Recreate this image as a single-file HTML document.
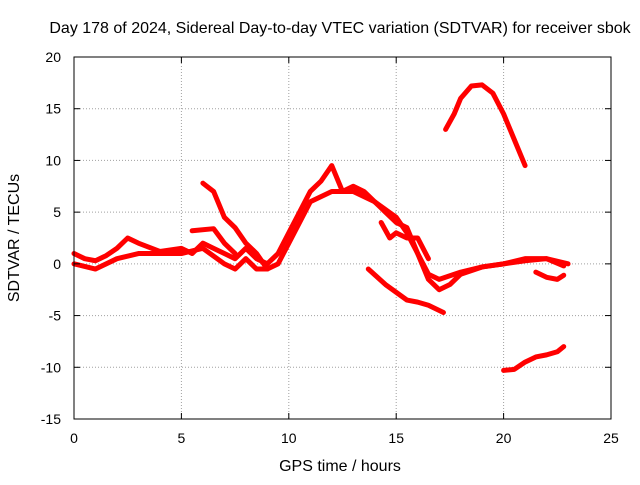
<!DOCTYPE html>
<html><head><meta charset="utf-8"><style>
body{margin:0;background:#fff}
svg text{font-family:"Liberation Sans",sans-serif;font-size:14px;fill:#000}
svg text.big{font-size:16px}
</style></head><body>
<svg id="chart" width="640" height="480" xmlns="http://www.w3.org/2000/svg">
<rect width="640" height="480" fill="#fff"/>
<g id="grid"></g><g id="series"></g><g id="axes"></g>
<text class="big" x="340" y="33" text-anchor="middle">Day 178 of 2024, Sidereal Day-to-day VTEC variation (SDTVAR) for receiver sbok</text>
<text class="big" x="340" y="471" text-anchor="middle">GPS time / hours</text>
<text class="big" transform="translate(19,238) rotate(-90)" text-anchor="middle">SDTVAR / TECUs</text>
</svg>
<script>
const xTicks=[0,5,10,15,20,25];
const yTicks=[20,15,10,5,0,-5,-10,-15];
const trackAx=[0,0.5,1,1.5,2,2.5,3,4,5,5.5,6,6.5,7,7.5,8,8.5,9,9.5,10,10.5,11,11.5,12,12.5,13,13.5,14,14.5,15,15.5,16,16.5,17,17.5,18,19,20,21,22,22.8];
const trackAy=[1,0.5,0.3,0.8,1.5,2.5,2,1.2,1.5,1,2,1.5,1,0.5,1.5,0.5,0,1,3,5,7,8,9.5,7,7.5,7,6,5,4,3.5,1,-1.5,-2.5,-2,-1,-0.3,0,0.5,0.5,-0.2];
const trackBx=[0,1,2,3,4,5,6,7,7.5,8,8.5,9,9.5,10,11,12,13,14,15,15.5,16,16.5,17,18,19,20,21,22,23];
const trackBy=[0,-0.5,0.5,1,1,1,1.5,0,-0.5,0.5,-0.5,-0.5,0,2,6,7,7,6,4.5,3,1,-1,-1.5,-0.8,-0.3,0,0.3,0.5,0];
const trackCx=[6,6.5,7,7.5,8,8.5,9];
const trackCy=[7.8,7,4.5,3.5,2,1,-0.5];
const trackDx=[5.5,6.5,7,7.5];
const trackDy=[3.2,3.4,2,1];
const trackEx=[14.3,14.7,15,15.5,16,16.5];
const trackEy=[4,2.5,3,2.5,2.5,0.5];
const trackFx=[13.7,14.5,15.5,16,16.5,17.2];
const trackFy=[-0.5,-2,-3.5,-3.7,-4,-4.7];
const trackGx=[17.3,17.7,18,18.5,19,19.5,20,20.5,21];
const trackGy=[13,14.5,16,17.2,17.3,16.5,14.5,12,9.5];
const trackHx=[20,20.5,21,21.5,22,22.5,22.8];
const trackHy=[-10.3,-10.2,-9.5,-9,-8.8,-8.5,-8];
const trackIx=[21.5,22,22.5,22.8];
const trackIy=[-0.8,-1.3,-1.5,-1.1];
const tracks=[[trackAx,trackAy],[trackBx,trackBy],[trackCx,trackCy],[trackDx,trackDy],[trackEx,trackEy],[trackFx,trackFy],[trackGx,trackGy],[trackHx,trackHy],[trackIx,trackIy]];
const L=74,R=611,T=57,B=419;
const sx=v=>L+(v-0)/25*(R-L);
const sy=v=>T+(20-v)/35*(B-T);
const NS="http://www.w3.org/2000/svg";
function mk(tag,parent,attrs){const e=document.createElementNS(NS,tag);for(const k in attrs)e.setAttribute(k,attrs[k]);parent.appendChild(e);return e;}
const grid=document.getElementById('grid'),axes=document.getElementById('axes'),ser=document.getElementById('series');
xTicks.forEach(t=>{
 if(t>0&&t<25){const g=mk('line',grid,{x1:sx(t),x2:sx(t),y1:T,y2:B,stroke:'#a0a0a0','stroke-dasharray':'1,2'});
 
 }
 const tx=mk('text',axes,{x:sx(t),y:B+24,'text-anchor':'middle'});tx.textContent=t;
 
 
 mk('line',axes,{x1:sx(t),x2:sx(t),y1:B,y2:B-6,stroke:'#000'});
 mk('line',axes,{x1:sx(t),x2:sx(t),y1:T,y2:T+6,stroke:'#000'});
});
yTicks.forEach(t=>{
 if(t<20&&t>-15){const g=mk('line',grid,{x1:L,x2:R,y1:sy(t),y2:sy(t),stroke:'#a0a0a0','stroke-dasharray':'1,2'});
 
 }
 const tx=mk('text',axes,{x:L-13,y:sy(t)+5,'text-anchor':'end'});tx.textContent=t;
 
 
 mk('line',axes,{x1:L,x2:L+6,y1:sy(t),y2:sy(t),stroke:'#000'});
 mk('line',axes,{x1:R,x2:R-6,y1:sy(t),y2:sy(t),stroke:'#000'});
});
const fr=mk('rect',axes,{x:L,y:T,width:R-L,height:B-T,fill:'none',stroke:'#000'});


tracks.forEach(([xs,ys])=>{
 const p=mk('polyline',ser,{points:xs.map((x,i)=>sx(x)+','+sy(ys[i])).join(' '),fill:'none',stroke:'#ff0000','stroke-width':5,'stroke-linejoin':'round','stroke-linecap':'round'});
 
 
});
</script>
</body></html>
